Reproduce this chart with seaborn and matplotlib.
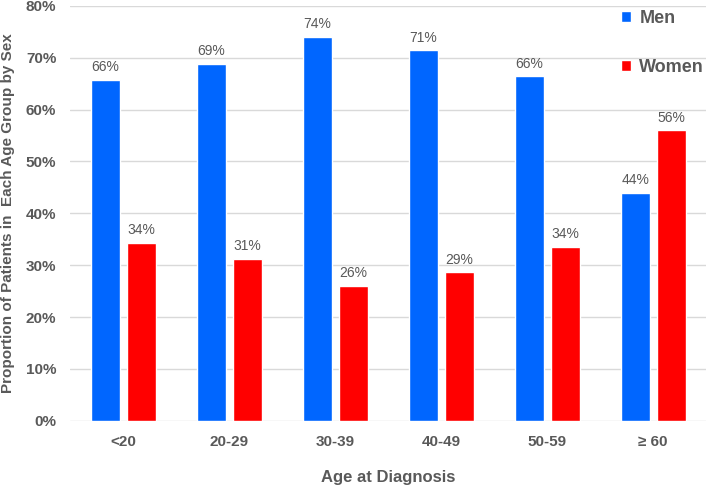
import pandas as pd
import matplotlib.pyplot as plt
import seaborn as sns
from matplotlib.ticker import PercentFormatter

age_groups = ["<20", "20-29", "30-39", "40-49", "50-59", "\u2265 60"]
men = [65.7, 68.8, 74.0, 71.4, 66.4, 44.0]
women = [34.3, 31.2, 26.0, 28.6, 33.6, 56.0]

df = pd.DataFrame({
    "age": age_groups * 2,
    "sex": ["Men"] * len(age_groups) + ["Women"] * len(age_groups),
    "pct": men + women,
})

sns.set_style("white")
plt.rcParams["font.family"] = ["Liberation Sans", "DejaVu Sans"]

grey = "#595959"

fig = plt.figure(figsize=(7.09, 4.86), dpi=100)
ax = fig.add_axes([0.099, 0.134, 0.897, 0.854])

sns.barplot(
    data=df,
    x="age",
    y="pct",
    hue="sex",
    palette={"Men": "#0066FF", "Women": "#FF0000"},
    saturation=1,
    width=0.68,
    gap=0.2,
    ax=ax
)

for cont in ax.containers:
    ax.bar_label(cont, fmt="%.0f%%", padding=4, fontsize=10, color=grey)

ax.set_ylim(0, 80)
ax.set_yticks(range(0, 81, 10))
ax.yaxis.set_major_formatter(PercentFormatter(decimals=0))
ax.grid(axis="y", color="#D9D9D9", linewidth=1)
ax.set_axisbelow(True)
for s in ax.spines.values():
    s.set_visible(False)
ax.tick_params(length=0, labelsize=11, labelcolor=grey, pad=10)
for lbl in ax.get_xticklabels() + ax.get_yticklabels():
    lbl.set_fontweight("bold")
ax.tick_params(axis="x", pad=10)

ax.set_xlabel("Age at Diagnosis", fontsize=12, fontweight="bold", color=grey, labelpad=15)
ax.set_ylabel("Proportion of Patients in  Each Age Group by Sex", fontsize=11,
              fontweight="bold", color=grey, labelpad=8)

leg = ax.legend(loc="upper right", bbox_to_anchor=(1.008, 1.008), frameon=False,
                borderaxespad=0, handlelength=0.55, handleheight=0.55, handletextpad=0.45,
                labelspacing=1.77, prop={"size": 13, "weight": "bold"})
for t in leg.get_texts():
    t.set_color(grey)

plt.savefig("out.png", dpi=100)
